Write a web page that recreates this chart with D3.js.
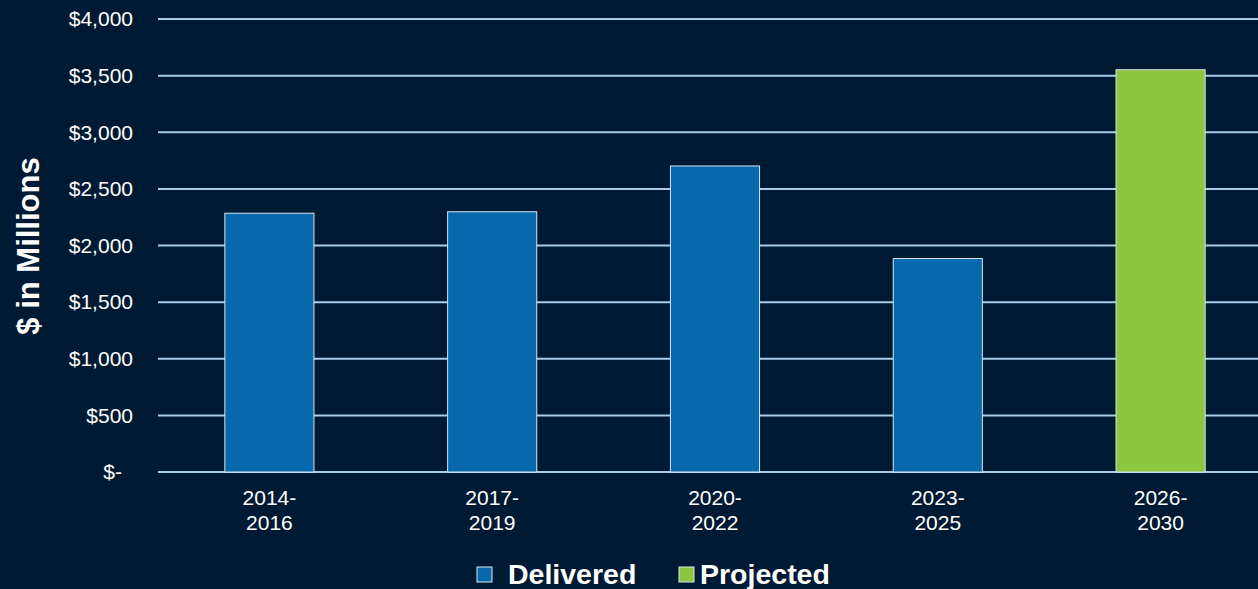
<!DOCTYPE html>
<html>
<head>
<meta charset="utf-8">
<script src="https://cdn.jsdelivr.net/npm/d3@7"></script>
<style>
  html, body { margin: 0; padding: 0; background: #001a33; }
  svg { display: block; font-family: "Liberation Sans", Arial, sans-serif; }
</style>
</head>
<body>
<svg id="chart" width="1258" height="589"></svg>
<script>
// data
const periods = ["2014-2016", "2017-2019", "2020-2022", "2023-2025", "2026-2030"];
const amounts = [2285, 2298, 2702, 1885, 3552];
const kinds = ["Delivered", "Delivered", "Delivered", "Delivered", "Projected"];
const yTicks = [0, 500, 1000, 1500, 2000, 2500, 3000, 3500, 4000];
const legendItems = ["Delivered", "Projected"];

const colors = {Delivered: "#0868ac", Projected: "#8dc63f"};

const svg = d3.select("#chart");
const W = 1258, H = 589;

svg.append("rect").attr("width", W).attr("height", H).attr("fill", "#001a33");

const x = d3.scaleBand()
    .domain(periods)
    .range([158, 1272])
    .paddingInner(0.6)
    .paddingOuter(0.3);

const y = d3.scaleLinear()
    .domain([0, 4000])
    .range([472, 19]);

const fmt = d3.format(",");

// gridlines
svg.append("g")
    .selectAll("line")
    .data(yTicks)
    .enter().append("line")
    .attr("x1", 158)
    .attr("x2", W)
    .attr("y1", d => y(d))
    .attr("y2", d => y(d))
    .attr("stroke", "#a8cdea")
    .attr("stroke-width", 2);

// y labels
svg.append("g")
    .selectAll("text")
    .data(yTicks)
    .enter().append("text")
    .attr("x", d => d === 0 ? 122 : 133)
    .attr("y", d => y(d))
    .attr("dy", "0.35em")
    .attr("text-anchor", "end")
    .attr("fill", "#ffffff")
    .attr("font-size", 21)
    .text(d => d === 0 ? "$-" : "$" + fmt(d));

// bars
svg.append("g")
    .selectAll("rect")
    .data(periods)
    .enter().append("rect")
    .attr("x", d => x(d))
    .attr("y", (d, i) => y(amounts[i]))
    .attr("width", x.bandwidth())
    .attr("height", (d, i) => y(0) - y(amounts[i]))
    .attr("fill", (d, i) => colors[kinds[i]])
    .attr("stroke", "#d9e6f0")
    .attr("stroke-width", 1);

// x labels, split on the dash
const xl = svg.append("g")
    .selectAll("text")
    .data(periods)
    .enter().append("text")
    .attr("text-anchor", "middle")
    .attr("fill", "#ffffff")
    .attr("font-size", 21);
xl.append("tspan")
    .attr("x", d => x(d) + x.bandwidth() / 2)
    .attr("y", 505)
    .text(d => d.split("-")[0] + "-");
xl.append("tspan")
    .attr("x", d => x(d) + x.bandwidth() / 2)
    .attr("y", 530)
    .text(d => d.split("-")[1]);

// y title
svg.append("text")
    .attr("transform", "translate(39,246) rotate(-90)")
    .attr("text-anchor", "middle")
    .attr("fill", "#ffffff")
    .attr("font-size", 31)
    .attr("font-weight", "bold")
    .text("$ in Millions");

// legend
const legendX = [477, 679];
const leg = svg.append("g")
    .selectAll("g")
    .data(legendItems)
    .enter().append("g")
    .attr("transform", (d, i) => "translate(" + legendX[i] + ",567)");
leg.append("rect")
    .attr("width", 15)
    .attr("height", 15)
    .attr("fill", d => colors[d])
    .attr("stroke", "#d9e6f0")
    .attr("stroke-width", 1);
leg.append("text")
    .attr("x", (d, i) => i === 0 ? 31 : 21)
    .attr("y", 17)
    .attr("fill", "#ffffff")
    .attr("font-size", 28.5)
    .attr("font-weight", "bold")
    .text(d => d);
</script>
</body>
</html>
